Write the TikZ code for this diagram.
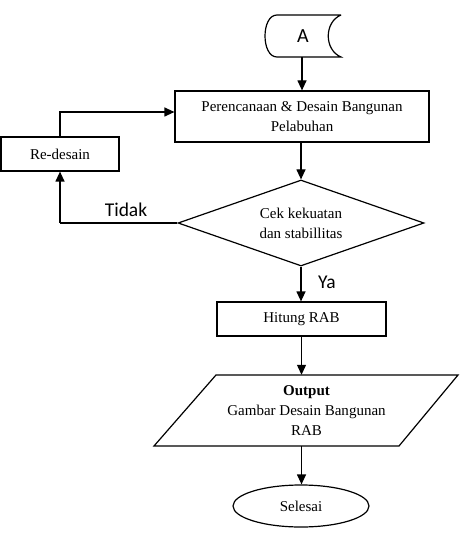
\documentclass[tikz,border=0pt]{standalone}
\usepackage{fontspec}
\setmainfont{Liberation Serif}
\newfontfamily\labfont{Carlito}
\usetikzlibrary{shapes.geometric,arrows.meta,calc}
\begin{document}
\begin{tikzpicture}[x=1pt,y=-1pt,
  every node/.style={font=\fontsize{15}{20}\selectfont},
  line/.style={line width=1.2pt},
  arr/.style={line width=1.2pt,-{Triangle[length=10pt,width=9pt]}},
  box/.style={draw,line width=1.2pt,rectangle,inner sep=0pt,align=center},
  lab/.style={font=\labfont\fontsize{19.5}{22}\selectfont,inner sep=0pt}]
\useasboundingbox (0,0) rectangle (460,534);
% stored data start
\node[inner sep=0pt,minimum width=76pt,minimum height=42pt,font=\labfont\fontsize{20}{22}\selectfont] (A) at (303,36) {A};
\draw[line] (341,15) -- (277,15) .. controls (261,15) and (261,57) .. (277,57) -- (341,57)
  .. controls (324,50) and (324,22) .. (341,15);
% process
\node[box,minimum width=254pt,minimum height=51pt] (P) at (302,116.5) {Perencanaan \& Desain Bangunan\\Pelabuhan};
\node[box,minimum width=118pt,minimum height=34pt] (R) at (60,154) {Re-desain};
\node[draw,line width=1.2pt,diamond,aspect=2.86,minimum width=246pt,minimum height=86pt,inner sep=0pt,align=center] (D) at (301,223) {Cek kekuatan\\dan stabillitas};
\node[box,minimum width=169pt,minimum height=34pt] (H) at (301.5,319) {Hitung RAB};
\node[inner sep=0pt,minimum width=180pt,minimum height=71pt,align=center] (O) at (306.5,410.5) {\textbf{Output}\\Gambar Desain Bangunan\\RAB};
\draw[line] (216,375) -- (458,375) -- (399,446) -- (154,446) -- cycle;
\node[draw,line width=1.2pt,ellipse,minimum width=136pt,minimum height=42pt,inner sep=0pt] (S) at (301,506) {Selesai};
% labels
\node[lab] (t) at (126,210) {Tidak};
\node[lab] (y) at (327,282) {Ya};
% connectors
\coordinate (c1) at (60,112);
\coordinate (c2) at (60,223);
\draw[arr] (A.south -| P.north) -- (P.north);
\draw[arr] (R.north) -- (c1) -- (c1 -| P.west);
\draw[arr] (P.south -| D.north) -- (D.north);
\draw[line] (D.west) -- (c2);
\draw[arr] (c2) -- (R.south);
\draw[arr] (D.south) -- (D.south |- H.north);
\draw[arr] (H.south) -- (H.south |- O.north);
\draw[arr] (H.south |- O.south) -- (H.south |- S.north);
\end{tikzpicture}
\end{document}
